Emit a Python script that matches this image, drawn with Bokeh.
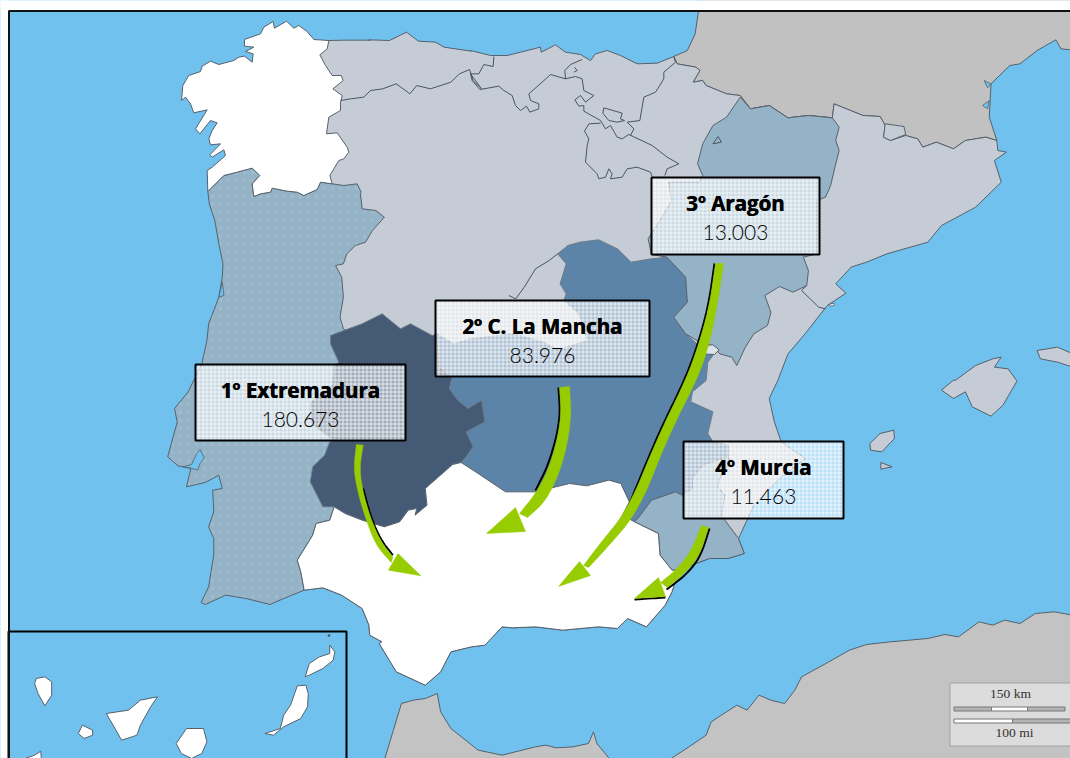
from bokeh.plotting import figure
from bokeh.models import Range1d
from bokeh.core.properties import value
from bokeh.embed import file_html
from bokeh.resources import INLINE

KX = 1568 / 535
def A(*p): return [(x / KX, y / 3) for x, y in p]
def B(*p): return [(535 + x / KX, y / 3) for x, y in p]
def C(*p): return [(x / KX, 378 + y / 3) for x, y in p]
def D(*p): return [(535 + x / KX, 378 + y / 3) for x, y in p]
def E(*p): return [(180 + x / 3, 290 + y / 3) for x, y in p]
def F(*p): return [(470 + x / 3, 40 + y / 3) for x, y in p]
def G(*p): return [(170 + x / 3, 15 + y / 3) for x, y in p]
def smooth(pts, n=3):
    for _ in range(n):
        out = [pts[0]]
        for (x0, y0), (x1, y1) in zip(pts, pts[1:]):
            out += [(.75*x0+.25*x1, .75*y0+.25*y1), (.25*x0+.75*x1, .25*y0+.75*y1)]
        out.append(pts[-1])
        pts = out
    return pts

region_labels = ["1º Extremadura", "2º C. La Mancha", "3º Aragón", "4º Murcia"]
region_values = ["180.673", "83.976", "13.003", "11.463"]
label_boxes = [(195, 364, 405, 440), (435, 300, 649, 376), (651, 177, 819, 254), (683, 441, 843, 518)]

north_coast = G((475,75),(520,74),(600,74)) + A((1080,118),(1140,120),(1190,95),(1225,122),(1275,125),(1300,140),(1380,152)) + \
    F((0,30),(60,45),(110,45),(210,20),(212,35),(255,13),(285,35),(330,42),(360,60),(375,40),(410,30),(450,45),(500,70),(560,68),(610,48))
french_border = B((415,190),(470,200),(482,210),(462,245),(490,240),(500,255),(560,280),(600,285),(630,325),(685,315),(740,352),(800,345),(870,352),(875,310),(960,345),(1010,348),(1025,375),(1020,410),(1040,420),(1085,405),(1120,415),(1135,440),(1175,425),(1225,445),(1260,420),(1320,410),(1352,420))
east_coast = B((1355,450),(1380,455),(1345,480),(1365,545),(1290,620),(1190,675),(1150,725),(1030,760),(970,785),(925,800),(880,850),(910,878),(855,915),(790,1000),(740,1060),(710,1140)) + \
    D((685,60),(700,130),(720,190),(790,240),(720,295),(640,380),(620,425),(595,480),(612,525))
murcia_coast = D((565,540),(510,540),(470,555),(420,575))
andalusia_coast = D((400,640),(380,680),(325,745),(270,720),(240,750),(185,745),(80,755),(0,745)) + \
    C((1500,748),(1470,745),(1420,800),(1380,805),(1320,820),(1290,880),(1245,920),(1160,880),(1110,795),(1118,790),(1082,770),(1080,740),(1060,690),(1000,650),(945,628),(890,635))
andalusia_west = C((880,580),(870,545),(915,470),(925,435),(965,425),(978,385))
extremadura_south = C((1010,405),(1060,425),(1125,445),(1170,430),(1195,395),(1220,390),(1215,410),(1250,380),(1245,330),(1325,258),(1350,252))
clm_south = C((1400,285),(1480,340),(1568,340)) + D((60,325),(100,315),(150,322),(215,305),(250,315),(275,370),(255,410))
murcia_andalusia = D((290,430),(360,465),(365,530),(400,575),(420,575))
ext_clm = C((1365,235),(1385,205),(1365,160),(1420,130),(1410,65),(1370,90),(1340,65),(1315,30)) + E((815,262),(780,230),(775,190),(770,130))
ext_north_west = E((755,135),(690,100),(660,115),(605,70),(545,100),(490,120),(450,135),(450,160),(475,215),(460,225),(455,285),(390,335),(392,400),(460,450)) + \
    C((965,190),(950,230),(915,265),(908,310),(935,365),(945,385),(978,385))
clm_north = E((820,160),(870,145),(1000,130),(1090,155),(1130,178),(1222,150),(1195,70),(1150,30)) + \
    B((90,880),(72,850),(90,790),(65,760),(95,735),(130,725),(185,718),(240,745),(280,785),(340,775),(385,770))
clm_east = B((440,830),(445,905),(405,950),(440,1000),(485,1040),(520,1065),(505,1085),(500,1140)) + \
    D((460,40),(455,70),(520,100),(505,165),(520,190),(565,200),(565,235),(490,260),(460,300),(460,330),(430,350),(410,340),(340,365),(300,420),(290,430))

galicia = G((430,72),(475,75),(470,100),(448,118),(465,150),(485,180),(512,180),(518,195),(487,220),(515,240),(510,262),(510,285),(475,305),(468,355),(500,352),(530,395),(535,410),(520,430),(505,435),(490,460),(478,480),(485,505),(450,500),(440,522),(400,540),(380,530),(350,527),(305,518),(300,530),(270,535),(250,543),(245,505),(268,480),(245,458),(200,470),(160,480),(112,528),(110,465),(125,455),(165,420),(160,403),(125,425),(118,418),(150,385),(120,388),(115,370),(125,345),(140,322),(120,315),(88,355),(75,340),(110,283),(70,292),(60,265),(45,245),(33,255),(37,210),(55,180),(90,168),(95,152),(120,137),(145,147),(190,135),(205,125),(222,122),(245,140),(248,115),(225,108),(250,95),(222,92),(222,72),(270,55),(280,35),(308,18),(312,38),(348,17),(370,38),(385,30),(410,48))
portugal = G((112,528)) + A((612,610),(628,660),(640,730),(652,790),(650,830),(640,890),(610,970),(605,1020),(590,1090)) + \
    C((550,40),(510,90),(518,130),(490,235),(520,262),(535,265),(558,270),(545,325),(600,312),(640,290),(650,330),(622,335),(625,400),(610,445),(625,480),(625,530),(610,625),(588,672),(600,678),(660,650),(720,660),(790,678),(830,660),(890,635)) + \
    andalusia_west + C((1050,300)) + A((1040,1010),(1005,985),(995,950),(1005,890),(1000,830),(982,795),(1005,790),(1015,760),(1040,735),(1070,725),(1090,690),(1125,650),(1100,630),(1060,625),(1055,580)) + \
    G((572,530),(560,505),(520,510),(485,505),(450,500),(440,522),(400,540),(380,530),(350,527),(305,518),(300,530),(270,535),(250,543),(245,505),(268,480),(245,458),(200,470),(160,480))
spain = north_coast + french_border + east_coast + murcia_coast + andalusia_coast + C((700,500)) + A((800,700),(800,300))
andalusia = murcia_andalusia + andalusia_coast + andalusia_west + extremadura_south + clm_south
extremadura = andalusia_west[-1:] + extremadura_south + ext_clm + ext_north_west
clm = extremadura_south[-1:] + ext_clm + clm_north + clm_east + clm_south[::-1]
aragon = B((600,290),(630,325),(685,315),(740,352),(800,345),(870,352),(890,380),(880,420),(890,450),(880,490),(865,555),(850,590),(825,600),(825,760),(785,770),(800,810),(795,855),(755,875),(715,858),(672,885),(690,935),(680,975),(640,1000),(615,1040),(590,1095),(575,1070),(540,1060),(520,1035),(490,1030),(440,1000),(405,950),(445,905),(440,830),(385,770),(340,762),(330,715),(365,660),(400,600),(390,545),(480,545),(490,525),(475,490),(490,430),(520,375),(560,350))
murcia = D((430,350),(460,330),(460,300),(490,260),(565,235),(570,250),(540,300),(535,325),(555,350),(545,410),(555,425),(595,480),(612,525)) + murcia_coast + murcia_andalusia[::-1] + D((300,420),(340,365),(410,340))
france = B((478,30),(468,100),(445,150)) + B((405,168)) + french_border + B((1330,350),(1335,250),(1390,195),(1420,190),(1470,150),(1525,118),(1540,145),(1568,148)) + [(1075, 45), (1075, -5), (698, -5)]
morocco_west = C((1125,1145),(1175,975),(1210,965),(1245,960),(1280,945),(1290,1000),(1320,1050),(1400,1115),(1470,1130),(1568,1105)) + D((30,1100),(60,1108),(110,1105),(155,1095),(170,1060),(180,1095),(220,1145))
morocco_east = D((390,1145),(450,1105),(500,1070),(515,1030),(590,980),(620,995),(655,950),(690,965),(730,975),(760,935),(780,895),(860,850),(920,815),(970,798),(1040,790),(1150,780),(1200,768),(1240,775),(1300,730),(1340,740),(1375,725),(1420,735),(1465,705),(1520,700),(1575,710),(1575,1145))
mallorca = B((1230,1140),(1290,1095),(1340,1075),(1365,1070),(1345,1100),(1385,1105),(1410,1140)) + D((1410,10),(1370,80),(1335,113),(1280,85),(1260,40),(1225,60),(1190,35),(1225,5))
menorca = B((1470,1050),(1530,1040),(1575,1060),(1575,1100),(1530,1085),(1480,1075))
ibiza = D((980,195),(1010,165),(1050,155),(1052,180),(1015,220),(982,215))
formentera = D((1012,252),(1045,265),(1030,268),(1012,272))
columbretes = B((860,912),(875,908),(875,915),(862,917))
rincon = B((490,1035),(520,1033),(538,1048),(525,1062),(490,1060))
andorra = B((1025,370),(1080,378),(1085,402),(1040,420),(1020,410))
canaries = [
    C((965,800),(980,820),(975,845),(945,870),(905,890),(893,895),(905,855),(935,835),(965,825)),
    C((870,922),(895,920),(902,945),(900,985),(880,1020),(830,1045),(800,1070),(775,1065),(820,1050),(830,1010),(850,980)),
    C((545,1050),(595,1050),(605,1090),(590,1125),(560,1140),(530,1125),(515,1095)),
    C((310,1005),(375,995),(410,965),(460,955),(440,985),(410,1040),(400,1070),(355,1085),(330,1040)),
    C((240,1040),(270,1055),(270,1070),(245,1080),(228,1065)),
    C((105,900),(130,895),(150,910),(150,950),(130,982),(110,945),(100,915)),
    C((72,1140),(100,1130),(118,1118),(120,1145),(72,1145)),
]
sea_inlets = [
    C((575,225),(585,213),(597,238),(585,255),(578,275),(555,268),(535,265),(560,258)),
    A((640,890),(650,845),(655,885)),
    B((1315,240),(1335,250),(1325,262)),
    B((1310,315),(1330,300),(1325,325)),
]
border_lines = [
    G((510,255),(540,250),(580,245),(600,225)) + A((1120,265),(1160,250),(1200,280),(1220,255),(1260,265),(1320,245),(1345,220),(1375,207),(1385,240),(1410,265)) + F((0,100),(5,120),(28,147),(85,137),(100,150),(125,165),(135,195),(150,210),(168,197),(178,215),(205,205),(205,190),(180,180),(175,160),(215,125),(240,102),(285,115)),
    F((70,48),(68,78),(40,72),(25,100),(0,100)),
    F((335,57),(300,72),(283,90),(285,115),(315,108),(335,115),(340,150),(370,165),(345,185),(330,165),(313,178),(325,197),(340,195),(340,212),(390,240),(405,265),(420,255),(440,290),(455,295),(475,282),(545,315),(590,350),(625,370),(590,385),(583,405)),
    F((390,248),(355,250),(342,272),(355,295),(350,315),(345,365),(380,400),(385,415),(405,410),(415,385),(425,400),(420,415),(455,410),(470,385),(500,380),(540,395),(545,408)),
    F((610,50),(615,65),(580,95),(580,115),(555,155),(520,170),(508,240),(470,245),(490,265),(480,285)),
    F((400,202),(455,218),(450,235),(462,240),(440,245),(415,240),(397,218),(400,202)),
    F((312,80),(320,90),(310,95)),
    B((795,855),(780,870),(830,920),(850,925)),
    A((1568,805),(1535,860),(1510,895),(1490,885)),
    B((0,805),(40,780),(65,760)),
    B((520,430),(535,408),(545,425),(520,430)),
]
# shaft edges (tail to head) and head triangles of the green arrows
arrow_left = [
    C((1043,198),(1035,270),(1047,340),(1070,420),(1100,500),(1145,552)),
    [(559,387),(561,420),(550,465),(536,492),(519,513)],
    [(715,263),(709,305),(698,345),(685,380),(658,435),(628,508),(598,545),(583,565)],
    [(701,525),(690,552),(675,570),(660,582)],
]
arrow_right = [
    C((1063,200),(1052,270),(1062,340),(1085,420),(1115,490),(1150,535)),
    [(569,386),(571,420),(562,465),(546,500),(527,517)],
    [(723,263),(716,310),(707,350),(696,380),(668,435),(638,511),(604,550),(588,567)],
    [(708,527),(699,555),(685,572),(667,587)],
]
arrow_heads = [
    C((1165,525),(1232,592),(1137,575)),
    [(515,507),(525,531),(486,533)],
    [(579,561),(590,575),(558,586)],
    [(658,577),(665,596),(634,598)],
]
arrow_shadows = [
    C((1063,330),(1085,415),(1115,485),(1150,530)),
    [(558,387),(560,420),(549,462),(535,490)],
    [(714,263),(708,305),(697,345),(684,380),(657,435),(627,508)],
    [(709,528),(700,556),(686,574),(666,589)],
    [(634,599),(665,597)],
]

COAST = "#56616c"
p = figure(width=1070, height=758, x_range=Range1d(0, 1070), y_range=Range1d(758, 0),
           toolbar_location=None, output_backend="svg", min_border=0, outline_line_color=None,
           background_fill_color="#70c1ee", border_fill_color="white")
p.axis.visible = False
p.grid.visible = False

def poly(pts, fill, line=COAST, lw=1.0, **kw):
    p.patch([a for a, _ in pts], [b for _, b in pts], fill_color=fill, line_color=line, line_width=lw, **kw)

poly(france, "#c1c1c1")
poly(morocco_west, "#c3c3c3")
poly(morocco_east, "#c3c3c3")
poly(spain, "#c5ccd6")
poly(andorra, "#c5ccd6")
p.patch([a for a, _ in portugal], [b for _, b in portugal], fill_color="#94b3c6", line_color=COAST, line_width=1,
        hatch_pattern="dot", hatch_color="#c9d8e2", hatch_alpha=0.2, hatch_scale=8, hatch_weight=0.3)
poly(galicia, "#ffffff")
poly(clm, "#5b84a8", line="#6d7c88")
poly(extremadura, "#445a75", line="#6d7c88")
poly(aragon, "#94b3c6")
poly(murcia, "#94b3c6")
poly(rincon, "#dde2e8")
poly(andalusia, "#ffffff")
for s in (mallorca, menorca, ibiza, formentera):
    poly(s, "#c5ccd6")
poly(columbretes, "#ffffff", lw=0.8)
for s in sea_inlets:
    poly(s, "#70c1ee", lw=0.8)
for l in border_lines:
    p.line([a for a, _ in l], [b for _, b in l], line_color="#4d555c", line_width=1)

# page margin above and left of the frame
p.quad(left=[-5], right=[1075], top=[-5], bottom=[10], fill_color="white", line_color=None)
p.quad(left=[-5], right=[8], top=[-5], bottom=[765], fill_color="white", line_color=None)

# Canary Islands inset
p.quad(left=[8], right=[346], top=[631], bottom=[765], fill_color="#70c1ee", line_color="black", line_width=2)
for s in canaries:
    poly(s, "#ffffff")
p.scatter([963 / KX], [378 + 771 / 3], size=2, color=COAST)

# Frame
p.quad(left=[8.5], right=[1075], top=[10.5], bottom=[765], fill_color=None, line_color="#111111", line_width=2)

# Scale box
p.quad(left=[949.5], right=[1075], top=[682.5], bottom=[745.5], fill_color="#dcdcdc", line_color="#a0a0a0", line_width=1)
p.quad(left=[953.5, 991, 1027], right=[991, 1027, 1064.5], top=[706.5] * 3, bottom=[710.5] * 3,
       fill_color=["#b4b4b4", "#ffffff", "#b4b4b4"], line_color="#777777", line_width=1)
p.quad(left=[953.5, 1012], right=[1012, 1075], top=[718.5] * 2, bottom=[722.5] * 2,
       fill_color=["#ffffff", "#b4b4b4"], line_color="#777777", line_width=1)
p.text([1010, 1014], [693, 732], text=["150 km", "100 mi"], text_font=value("Liberation Serif"), text_font_size="13.5px",
       text_color="#333333", text_align="center", text_baseline="middle")

# Data labels
for (l, t, r, b) in label_boxes:
    p.quad(left=[l], right=[r], top=[t], bottom=[b], fill_color="white", fill_alpha=0.5, line_color=None)
    gx = list(range(l + 3, r, 4))
    gy = list(range(t + 3, b, 4))
    p.multi_line([[x + 0.5, x + 0.5] for x in gx] + [[l, r] for _ in gy],
                 [[t, b] for _ in gx] + [[y + 0.5, y + 0.5] for y in gy],
                 line_color="white", line_alpha=0.7, line_width=1)
    p.quad(left=[l], right=[r], top=[t], bottom=[b], fill_color=None, line_color="black", line_width=2)
cx = [(b[0] + b[2]) / 2 for b in label_boxes]
for dx in (-0.3, 0.3):
    p.text([c + dx for c in cx], [b[1] + 25.5 for b in label_boxes], text=region_labels, text_font=value("Open Sans"), text_font_style="bold",
           text_font_size="20.5px", text_color="black", text_align="center", text_baseline="middle")
p.text(cx, [b[1] + 55 for b in label_boxes], text=region_values, text_font=value("Lato Light, Lato"),
       text_font_size="21px", text_color="black", text_align="center", text_baseline="middle")

# Arrows
for l in arrow_shadows:
    s = smooth(l)
    p.line([a for a, _ in s], [b for _, b in s], line_color="black", line_width=2)
for le, ri, he in zip(arrow_left, arrow_right, arrow_heads):
    s = smooth(le) + smooth(ri)[::-1]
    p.patch([a for a, _ in s], [b for _, b in s], fill_color="#97cc00", line_color="#97cc00", line_width=0.5)
    p.patch([a for a, _ in he], [b for _, b in he], fill_color="#97cc00", line_color="#97cc00", line_width=0.5)

open("out.html", "w").write(file_html(p, INLINE))
